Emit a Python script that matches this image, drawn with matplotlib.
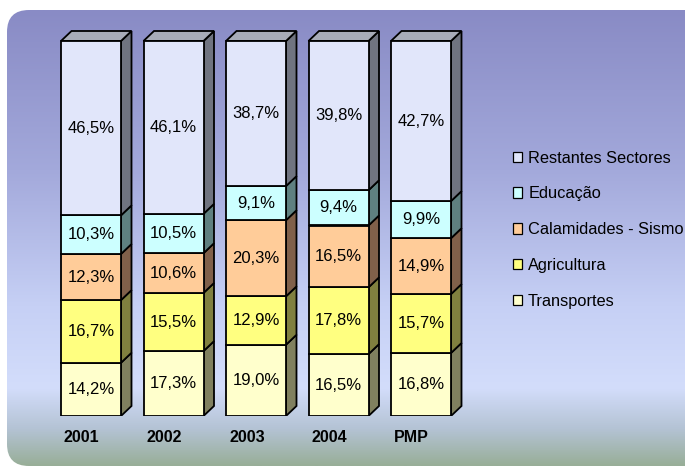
import numpy as np
import matplotlib
matplotlib.use("Agg")
import matplotlib.pyplot as plt
from matplotlib.patches import FancyBboxPatch, Polygon, Patch
from matplotlib.colors import LinearSegmentedColormap

plt.rcParams["font.family"] = ["Liberation Sans", "DejaVu Sans"]

# Data
categories = ["2001", "2002", "2003", "2004", "PMP"]
sectors = ["Transportes", "Agricultura", "Calamidades - Sismo", "Educação", "Restantes Sectores"]
transportes = [14.2, 17.3, 19.0, 16.5, 16.8]
agricultura = [16.7, 15.5, 12.9, 17.8, 15.7]
calamidades = [12.3, 10.6, 20.3, 16.5, 14.9]
educacao = [10.3, 10.5, 9.1, 9.4, 9.9]
restantes = [46.5, 46.1, 38.7, 39.8, 42.7]
series = [transportes, agricultura, calamidades, educacao, restantes]

front_colors = ["#ffffcc", "#ffff80", "#ffcc99", "#ccffff", "#e1e6fa"]
side_colors = ["#80805f", "#80803f", "#80604a", "#5f8080", "#707480"]
top_color = "#a8acb8"

W, H = 685, 468
fig = plt.figure(figsize=(W / 100, H / 100), dpi=100)

# background with rounded corners and vertical gradient
bg = fig.add_axes([0, 0, 1, 1])
bg.set_xlim(0, W)
bg.set_ylim(H, 0)
bg.axis("off")
cmap = LinearSegmentedColormap.from_list(
    "bg", [(0.0, "#898bc5"), (0.35, "#a3a9db"), (0.65, "#c6d0f5"),
           (0.83, "#d3ddfb"), (0.92, "#b4c3d4"), (1.0, "#98ae98")])
grad = np.linspace(0, 1, 256).reshape(-1, 1)
im = bg.imshow(grad, cmap=cmap, aspect="auto", extent=[7, 720, 466, 10], zorder=0)
box = FancyBboxPatch((27, 30), 700, 416, boxstyle="round,pad=20,rounding_size=22",
                     transform=bg.transData, facecolor="none", edgecolor="none")
bg.add_patch(box)
im.set_clip_path(box)

# main axes: pixel-aligned
left_px, right_px, top_px, bot_px = 40, 480, 20, 416
ax = fig.add_axes([left_px / W, 1 - bot_px / H, (right_px - left_px) / W, (bot_px - top_px) / H])
ax.patch.set_alpha(0)
px_x = 82.5
px_y = 3.75
ax.set_xlim((left_px - 91) / px_x, (right_px - 91) / px_x)
ax.set_ylim(0, (bot_px - top_px) / px_y)
ax.axis("off")

bw = 60 / px_x
dx = 10.5 / px_x
dy = 10 / px_y
x = np.arange(len(categories))

bottom = np.zeros(len(categories))
for vals, fc, sc in zip(series, front_colors, side_colors):
    vals = np.array(vals)
    ax.bar(x, vals, bw, bottom=bottom, color=fc, edgecolor="black", linewidth=1.3, zorder=3)
    for xi, b, v in zip(x, bottom, vals):
        r = xi + bw / 2
        side = Polygon([(r, b), (r + dx, b + dy), (r + dx, b + v + dy), (r, b + v)],
                       closed=True, facecolor=sc, edgecolor="black", linewidth=1.3, zorder=2)
        ax.add_patch(side)
        ax.text(xi, b + v / 2, f"{v:.1f}%".replace(".", ","), ha="center", va="center",
                fontsize=12, zorder=5)
    bottom = bottom + vals

for xi, t in zip(x, bottom):
    l, r = xi - bw / 2, xi + bw / 2
    top = Polygon([(l, t), (l + dx, t + dy), (r + dx, t + dy), (r, t)], closed=True,
                  facecolor=top_color, edgecolor="black", linewidth=1.3, zorder=2)
    ax.add_patch(top)

for xi, c in zip(x, categories):
    ax.text(xi - bw / 2 + 3 / px_x, -5.6, c, ha="left", va="center", fontsize=11.5,
            fontweight="bold")

handles = [Patch(facecolor=fc, edgecolor="black", linewidth=0.9, label=s)
           for s, fc in zip(sectors, front_colors)][::-1]
fig.legend(handles=handles, loc="upper left", bbox_to_anchor=(506 / W, 1 - 144 / H),
           frameon=False, fontsize=11.8, handlelength=0.6, handleheight=0.6,
           handletextpad=0.35, labelspacing=1.27, borderaxespad=0)

fig.savefig("out.png", dpi=100)
